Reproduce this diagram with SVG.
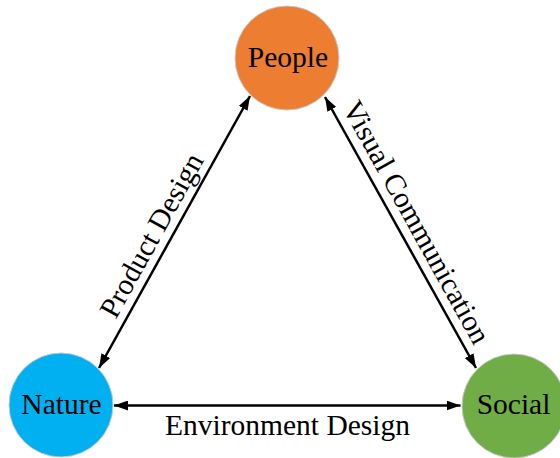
<svg xmlns="http://www.w3.org/2000/svg" width="560" height="458" viewBox="0 0 560 458">
  <style>
    .node { stroke: #c8c8c8; stroke-width: 1; }
    .label { font-family: "Liberation Serif", "Times New Roman", serif; font-size: 29.5px; fill: #000; text-anchor: middle; }
    .edge { stroke: #000; stroke-width: 2.5; fill: none; marker-start: url(#arrow); marker-end: url(#arrow); }
  </style>
  <defs>
    <marker id="arrow" viewBox="0 0 14 10" refX="14" refY="5" markerWidth="14" markerHeight="10" markerUnits="userSpaceOnUse" orient="auto-start-reverse">
      <path d="M0,0 L14,5 L0,10 z" fill="#000"/>
    </marker>
  </defs>
  <rect width="560" height="458" fill="#fff"/>

  <g id="connectors">
    <path class="edge" d="M99,368 L250,96"/>
    <path class="edge" d="M325,97 L476,368"/>
    <path class="edge" d="M114,405.5 L460.5,405.5"/>
    <text class="label" transform="translate(160,240) rotate(-61)">Product Design</text>
    <text class="label" transform="translate(408,227) rotate(61)">Visual Communication</text>
    <text class="label" x="287.5" y="435">Environment Design</text>
  </g>

  <g id="people">
    <circle class="node" cx="287" cy="58" r="52" fill="#ED7D31"/>
    <text class="label" x="288" y="67">People</text>
  </g>
  <g id="nature">
    <circle class="node" cx="61" cy="405" r="52" fill="#00B0F0"/>
    <text class="label" x="61.5" y="414">Nature</text>
  </g>
  <g id="social">
    <circle class="node" cx="514" cy="406" r="52" fill="#70AD47"/>
    <text class="label" x="513.5" y="414">Social</text>
  </g>
</svg>
